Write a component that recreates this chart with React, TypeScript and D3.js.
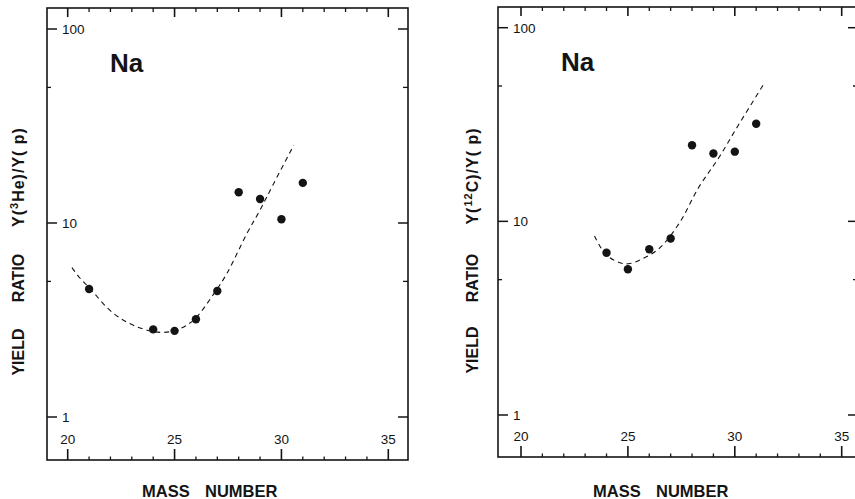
import React from "react";
import * as d3 from "d3";

// ---------- data ----------
const massNumbers = [21, 24, 25, 26, 27, 28, 29, 30, 31];
const heRatio = [4.57, 2.83, 2.78, 3.19, 4.46, 14.4, 13.3, 10.45, 16.1];

const cMassNumbers = [24, 25, 26, 27, 28, 29, 30, 31];
const cRatio = [6.88, 5.66, 7.18, 8.15, 24.7, 22.4, 22.9, 31.9];

const heFitMass = [20.2, 20.58, 21.0, 22.14, 23.23, 24.33, 25.1, 25.89, 26.9, 27.45, 28.39, 29.0, 29.64, 30.58];
const heFitValue = [5.89, 5.19, 4.65, 3.42, 2.92, 2.73, 2.81, 3.16, 4.42, 5.5, 8.85, 11.67, 16.0, 25.2];

const cFitMass = [23.44, 23.94, 24.56, 25.03, 25.66, 26.44, 27.38, 28.31, 29.25, 30.19, 31.39];
const cFitValue = [8.41, 6.8, 6.15, 6.04, 6.4, 7.21, 9.7, 14.96, 21.3, 31.7, 51.9];

const xTickLabels = [20, 25, 30, 35];
const xMinorTicks = d3.range(20, 36);
const yMajorTicks = [1, 10, 100];
const yMinorTicks = [5, 50];

const INK = "#141414";
const FONT = "'Liberation Sans', Arial, Helvetica, sans-serif";

type PanelProps = {
  frame: { x0: number; x1: number; y0: number; y1: number };
  xRange: [number, number];
  yRange: [number, number];
  masses: number[];
  values: number[];
  fitMass: number[];
  fitValue: number[];
  labelX: number;
  labelParts: { center: number }[];
  ratioLabel: React.ReactNode;
  naPos: [number, number];
  massPos: [number, number];
};

function Panel(p: PanelProps) {
  const x = d3.scaleLinear().domain([20, 35]).range(p.xRange);
  const y = d3.scaleLog().domain([1, 100]).range(p.yRange);
  const { x0, x1, y0, y1 } = p.frame;
  const line = d3
    .line<number>()
    .x((_, i) => x(p.fitMass[i]))
    .y((v) => y(v))
    .curve(d3.curveCatmullRom.alpha(0.5));

  return (
    <g>
      <rect x={x0} y={y0} width={x1 - x0} height={y1 - y0} fill="none" stroke={INK} strokeWidth={1.6} />
      {/* x ticks bottom and top */}
      {xMinorTicks.map((t) => {
        const major = t % 5 === 0;
        const lb = major ? 11 : 3.5;
        const lt = major ? 9 : 4;
        return (
          <g key={"xt" + t}>
            <line x1={x(t)} x2={x(t)} y1={y1} y2={y1 - lb} stroke={INK} strokeWidth={major ? 1.6 : 1.3} />
            <line x1={x(t)} x2={x(t)} y1={y0} y2={y0 + lt} stroke={INK} strokeWidth={major ? 1.6 : 1.3} />
          </g>
        );
      })}
      {xTickLabels.map((t) => (
        <text key={"xl" + t} x={x(t)} y={y1 - 16} textAnchor="middle" fontSize={13.5} fontFamily={FONT} fill={INK}>
          {t}
        </text>
      ))}
      {/* y ticks left and right */}
      {yMajorTicks.map((t) => (
        <g key={"ym" + t}>
          <line x1={x0} x2={x0 + 10} y1={y(t)} y2={y(t)} stroke={INK} strokeWidth={1.5} />
          <line x1={x1} x2={x1 - 10} y1={y(t)} y2={y(t)} stroke={INK} strokeWidth={1.5} />
          <text x={x0 + 15} y={y(t) + 5} fontSize={13.5} fontFamily={FONT} fill={INK}>
            {t}
          </text>
        </g>
      ))}
      {yMinorTicks.map((t) => (
        <g key={"yn" + t}>
          <line x1={x0} x2={x0 + 4} y1={y(t)} y2={y(t)} stroke={INK} strokeWidth={1.3} />
          <line x1={x1} x2={x1 - 5} y1={y(t)} y2={y(t)} stroke={INK} strokeWidth={1.3} />
        </g>
      ))}
      {/* fit curve */}
      <path d={line(p.fitValue) || ""} fill="none" stroke={INK} strokeWidth={1.1} strokeDasharray="5,4" />
      {/* data points */}
      {p.masses.map((m, i) => (
        <circle key={"pt" + m} cx={x(m)} cy={y(p.values[i])} r={4.2} fill={INK} />
      ))}
      {/* element label */}
      <text x={p.naPos[0]} y={p.naPos[1]} fontSize={26} fontWeight="bold" fontFamily={FONT} fill={INK}>
        Na
      </text>
      {/* x axis title */}
      <text x={p.massPos[0]} y={p.massPos[1]} fontSize={16.5} fontWeight="bold" fontFamily={FONT} fill={INK}>
        MASS
      </text>
      <text x={p.massPos[0] + 63} y={p.massPos[1]} fontSize={16.5} fontWeight="bold" fontFamily={FONT} fill={INK}>
        NUMBER
      </text>
      {/* y axis title */}
      <g fontSize={16} fontWeight="bold" fontFamily={FONT} fill={INK}>
        <text transform={`translate(${p.labelX},${p.labelParts[0].center}) rotate(-90)`} textAnchor="middle">
          YIELD
        </text>
        <text transform={`translate(${p.labelX},${p.labelParts[1].center}) rotate(-90)`} textAnchor="middle">
          RATIO
        </text>
        <text transform={`translate(${p.labelX},${p.labelParts[2].center}) rotate(-90)`} textAnchor="middle" letterSpacing={1}>
          {p.ratioLabel}
        </text>
      </g>
    </g>
  );
}

export default function App() {
  return (
    <svg
      width={855}
      height={499}
      viewBox="0 0 855 499"
      style={{ position: "absolute", left: 0, top: 0, background: "#fff" }}
    >
      <rect x={0} y={0} width={855} height={499} fill="#fff" />
      <Panel
        frame={{ x0: 47, x1: 408, y0: 8, y1: 460 }}
        xRange={[67.7, 388.3]}
        yRange={[417, 29]}
        masses={massNumbers}
        values={heRatio}
        fitMass={heFitMass}
        fitValue={heFitValue}
        labelX={24}
        labelParts={[{ center: 352 }, { center: 278 }, { center: 177 }]}
        ratioLabel={
          <>
            Y(
            <tspan fontSize={11} dy={-6}>3</tspan>
            <tspan dy={6}>He)/Y( p)</tspan>
          </>
        }
        naPos={[110, 72]}
        massPos={[142, 497]}
      />
      <Panel
        frame={{ x0: 498, x1: 858, y0: 7, y1: 457 }}
        xRange={[521, 841.7]}
        yRange={[415, 27.7]}
        masses={cMassNumbers}
        values={cRatio}
        fitMass={cFitMass}
        fitValue={cFitValue}
        labelX={478}
        labelParts={[{ center: 350 }, { center: 278 }, { center: 176 }]}
        ratioLabel={
          <>
            Y(
            <tspan fontSize={11} dy={-6}>12</tspan>
            <tspan dy={6}>C)/Y( p)</tspan>
          </>
        }
        naPos={[561, 71]}
        massPos={[593, 497]}
      />
    </svg>
  );
}
